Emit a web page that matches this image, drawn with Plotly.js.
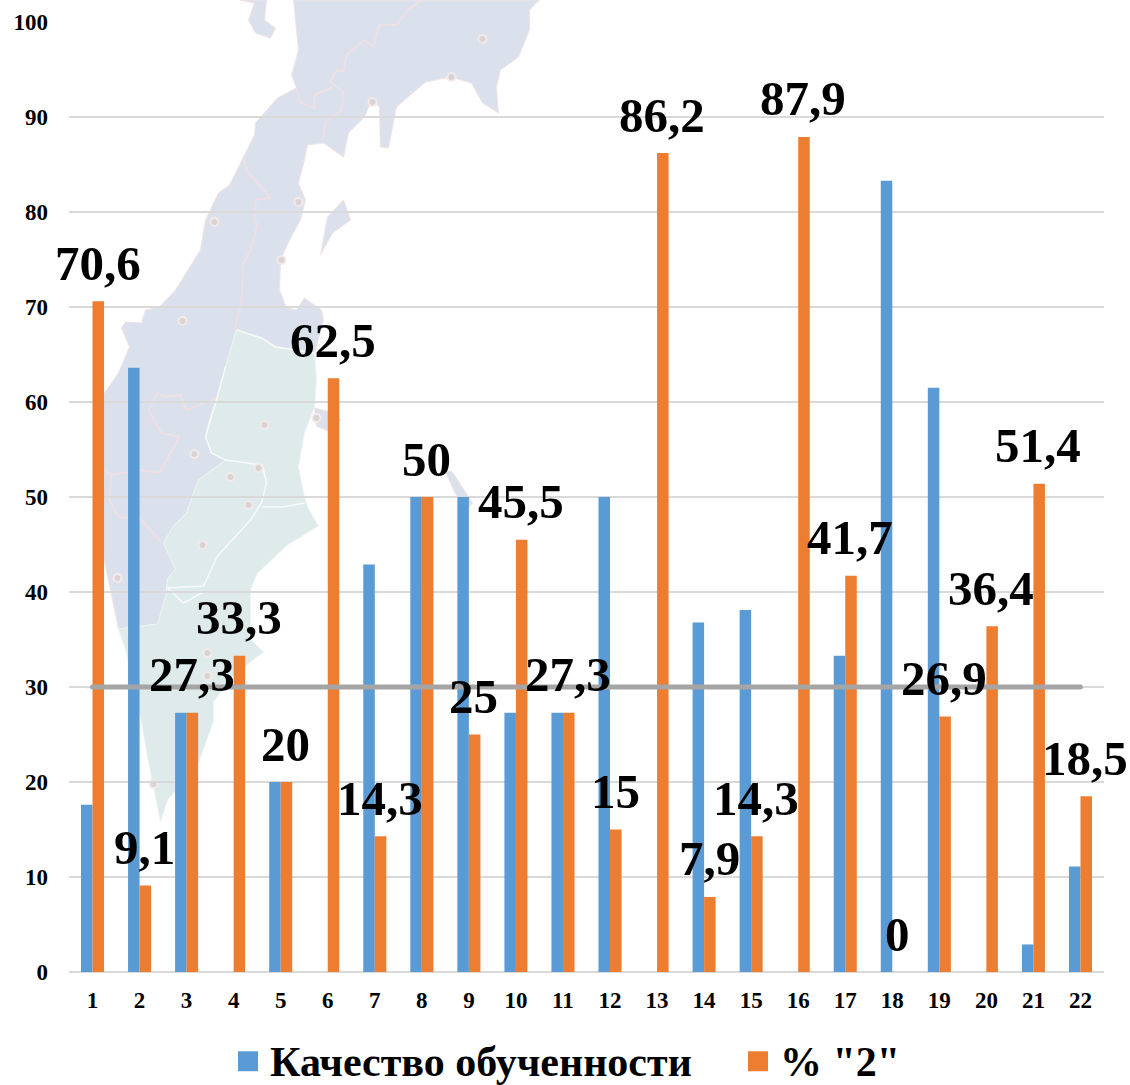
<!DOCTYPE html>
<html lang="ru">
<head>
<meta charset="utf-8">
<script src="https://cdn.plot.ly/plotly-3.0.1.min.js"></script>
<style>html,body{margin:0;padding:0;background:#fff}#chart{width:1130px;height:1085px}</style>
</head>
<body>
<div id="chart"></div>
<script>
const categories = ['1','2','3','4','5','6','7','8','9','10','11','12','13','14','15','16','17','18','19','20','21','22'];
const qualityName = 'Качество обученности';
const failName = '% "2"';
const qualityValues = [17.6,63.6,27.3,0,20,0,42.9,50,50,27.3,27.3,50,0,36.8,38.1,0,33.3,83.3,61.5,0,2.9,11.1];
const failValues = [70.6,9.1,27.3,33.3,20,62.5,14.3,50,25,45.5,27.3,15,86.2,7.9,14.3,87.9,41.7,0,26.9,36.4,51.4,18.5];
const thresholdValues = categories.map(() => 30);

// Decorative background map, traced in page pixels.
const mapBlue = [[293,0],[298,50],[291,75],[296,88],[277,98],[255,123],[254,135],[243,157],[229,185],[218,193],[205,220],[200,250],[175,290],[159,307],[145,310],[141,323],[125,322],[121,328],[129,347],[118,373],[104,393],[95,400],[93,470],[97,530],[103,556],[118,629],[157,624],[165,597],[167,579],[175,569],[163,543],[173,526],[186,513],[198,480],[225,460],[211,453],[205,437],[209,420],[216,400],[225,367],[236,330],[261,338],[275,347],[314,353],[323,320],[321,310],[304,298],[296,310],[286,308],[279,290],[280,260],[289,240],[300,220],[305,200],[298,183],[304,160],[307,145],[323,143],[343,157],[348,133],[364,117],[371,100],[379,107],[380,147],[388,148],[396,107],[425,82],[450,77],[471,83],[482,103],[498,113],[496,87],[500,70],[518,57],[529,30],[529,10],[539,0]];
const mapGreen = [[118,629],[125,650],[140,717],[148,762],[160,822],[167,800],[197,766],[213,721],[213,702],[232,676],[263,652],[250,639],[250,590],[257,573],[287,545],[318,526],[307,507],[304,497],[298,467],[304,433],[314,407],[316,380],[314,353],[275,347],[261,338],[236,330],[225,367],[216,400],[209,420],[205,437],[211,453],[225,460],[198,480],[186,513],[173,526],[163,543],[175,569],[167,579],[165,597],[157,624]];
const mapIslands = [
  [[239,0],[266,0],[264,20],[275,28],[270,38],[255,33],[248,20],[254,3]],
  [[343,200],[350,220],[332,233],[320,255],[327,217]],
  [[444,470],[452,472],[472,503],[468,508],[455,494]],
  [[314,408],[330,412],[340,420],[330,432],[316,426]]
];
const mapBordersPink = [
  [[421,0],[407,10],[396,25],[379,25],[373,47],[364,40],[346,55],[343,72],[336,70],[330,82],[343,92],[341,110],[325,123],[323,137]],
  [[296,88],[300,103],[314,108],[314,95],[332,87]],
  [[243,157],[246,170],[270,198],[255,200],[254,220],[257,225],[250,250],[243,263],[241,300],[234,330]],
  [[216,398],[186,410],[180,395],[163,397],[157,393],[148,410],[161,433],[179,437],[159,473],[139,470],[111,475],[104,470]],
  [[111,475],[109,500],[118,517],[140,519],[160,541]]
];
const mapBordersWhite = [
  [[225,460],[262,465],[266,483],[261,503],[250,520],[217,556],[203,586],[167,588],[183,603],[203,592]],
  [[262,507],[282,507],[304,503]],
  [[236,330],[261,338],[275,347],[314,353]],
  [[225,367],[216,400],[205,437],[211,453],[225,460]]
];
const mapDots = [[482,39],[451,77],[372,102],[214,222],[298,202],[281,260],[182,321],[264,425],[316,418],[194,454],[230,477],[258,468],[248,505],[202,545],[117,578],[207,653],[207,676],[153,784]];

const L = 68.5, R = 1103.6, T = 22, B = 972;
const px = p => `${((p[0]-L)/(R-L)).toFixed(4)} ${((B-p[1])/(B-T)).toFixed(4)}`;
const pathOf = (pts, close) => 'M' + pts.map(px).join(' L') + (close ? ' Z' : '');
const shape = (pts, close, fill, line, w) => ({
  type:'path', xref:'paper', yref:'paper', layer:'below', path:pathOf(pts, close),
  fillcolor: close ? fill : 'rgba(0,0,0,0)', line:{color:line, width:w}
});
const dot = p => ({
  type:'circle', xref:'paper', yref:'paper', layer:'below',
  x0:(p[0]-4-L)/(R-L), x1:(p[0]+4-L)/(R-L), y0:(B-p[1]-4)/(B-T), y1:(B-p[1]+4)/(B-T),
  fillcolor:'#d9d3d3', line:{color:'#f3e9e9', width:2}
});
const mapShapes = [
  shape(mapBlue, true, '#dbe1ec', '#f2e2e4', 1),
  ...mapIslands.map(s => shape(s, true, '#dbe1ec', '#f2e2e4', 1)),
  shape(mapGreen, true, '#deebea', '#eef4f3', 1),
  ...mapBordersPink.map(s => shape(s, false, null, '#f3dfe2', 1.5)),
  ...mapBordersWhite.map(s => shape(s, false, null, '#f7fafa', 1.5)),
  ...mapDots.map(dot)
];

const serifBold = {family:'"Liberation Serif","Times New Roman",serif', weight:700, color:'#000'};

const traces = [
  {type:'bar', name:qualityName, x:categories, y:qualityValues, marker:{color:'#5b9bd5'}},
  {type:'bar', name:failName, x:categories, y:failValues, marker:{color:'#ed7d31'}},
  {type:'scatter', mode:'lines', x:categories, y:thresholdValues, showlegend:false,
   line:{color:'#a5a5a5', width:5}}
];

const valueLabels = failValues.map((v, i) => ({
  x:i, y:v, xref:'x', yref:'y', showarrow:false,
  text:String(v).replace('.',','), xanchor:'center', yanchor:'middle',
  xshift:5, yshift:38, font:{...serifBold, size:49}
}));

const layout = {
  width:1130, height:1085, autosize:false,
  margin:{l:L, r:1130-R, t:T, b:1085-B, pad:0},
  paper_bgcolor:'#fff', plot_bgcolor:'rgba(0,0,0,0)',
  barmode:'group', bargap:0.51, bargroupgap:0,
  showlegend:true,
  legend:{orientation:'h', xref:'container', yref:'container', xanchor:'left', x:0.2, yanchor:'middle', y:0.0236,
          font:{...serifBold, size:42}, itemwidth:34, entrywidthmode:'pixels', entrywidth:461,
          itemclick:false, itemdoubleclick:false, traceorder:'normal', bgcolor:'rgba(0,0,0,0)'},
  xaxis:{type:'category', range:[-0.5,21.5], autorange:false, showgrid:false, zeroline:false, showline:false, ticks:'',
         ticklabelstandoff:12, tickfont:{...serifBold, size:23}, tickangle:0, fixedrange:true},
  yaxis:{range:[0,100], autorange:false, dtick:10, showgrid:true, gridcolor:'#d9d9d9', gridwidth:2,
         zeroline:true, zerolinecolor:'#d9d9d9', zerolinewidth:2, showline:false, ticks:'',
         ticklabelstandoff:20, tickfont:{...serifBold, size:23}, fixedrange:true},
  shapes:mapShapes,
  annotations:valueLabels,
  hovermode:false
};

Plotly.newPlot('chart', traces, layout, {displayModeBar:false, staticPlot:true}).then(() => {
  document.querySelectorAll('#chart .legend .legendpoints path').forEach(p => {
    p.setAttribute('d','M10,12H-10V-8H10Z');
  });
  document.querySelectorAll('#chart .scatterlayer .js-line').forEach(p => {
    p.style.strokeLinecap = 'round';
  });
});
</script>
</body>
</html>
